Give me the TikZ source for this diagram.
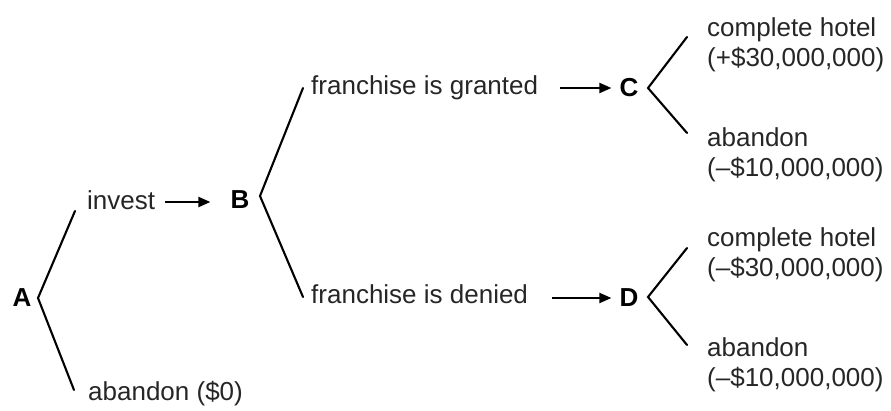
\documentclass[tikz,border=0pt]{standalone}
\usepackage{fontspec}
\setmainfont{Liberation Sans}
\usetikzlibrary{calc, positioning}
\usetikzlibrary{arrows.meta}
\definecolor{ink}{HTML}{262626}
\begin{document}
\begin{tikzpicture}[x=1pt, y=-1pt,
  txt/.style={anchor=base west, inner sep=0pt, text=ink, font=\fontsize{26}{30}\selectfont, align=left},
  letter/.style={anchor=base, inner sep=0pt, font=\fontsize{26}{30}\selectfont\bfseries},
  branch/.style={line width=2.1pt, line cap=round},
  arr/.style={line width=2.1pt, -{Triangle[length=12pt, width=10pt]}}]
\useasboundingbox (0,0) rectangle (891,411);

\node[letter] (A) at (22,307) {A};
\node[letter] (B) at (240,209) {B};
\node[letter] (C) at (629,97) {C};
\node[letter] (D) at (629,307) {D};

\node[txt] (inv) at (87,210) {invest};
\node[txt] (aba) at (88,400) {abandon (\$0)};
\node[txt] (gra) at (311,95) {franchise is granted};
\node[txt] (den) at (311,304) {franchise is denied};
\node[txt] (cch) at (707,67) {complete hotel\\(+\$30,000,000)};
\node[txt] (cab) at (707,177) {abandon\\(–\$10,000,000)};
\node[txt] (dch) at (707,277) {complete hotel\\(–\$30,000,000)};
\node[txt] (dab) at (707,386) {abandon\\(–\$10,000,000)};

\coordinate (a) at (38,298);
\coordinate (a1) at (75,211);
\coordinate (a2) at (74,390);
\coordinate (b) at (260,196);
\coordinate (b1) at (303,88);
\coordinate (b2) at (303,297);
\coordinate (c) at (648,88);
\coordinate (c1) at (687,37);
\coordinate (c2) at (687,133);
\coordinate (d) at (648,297);
\coordinate (d1) at (687,248);
\coordinate (d2) at (687,345);

\draw[branch] (a1) -- (a) -- (a2);
\draw[branch] (b1) -- (b) -- (b2);
\draw[branch] (c1) -- (c) -- (c2);
\draw[branch] (d1) -- (d) -- (d2);

\draw[arr, shorten <=10pt, shorten >=20pt] ($(inv.base east)+(0,-8)$) -- ($(inv.base east -| B.west)+(0,-8)$);
\draw[arr, shorten <=22pt, shorten >=8pt] ($(gra.base east)+(0,-7)$) -- ($(gra.base east -| C.west)+(0,-7)$);
\draw[arr, shorten <=24pt, shorten >=8pt] ($(den.base east)+(0,-6)$) -- ($(den.base east -| D.west)+(0,-6)$);

\end{tikzpicture}
\end{document}
